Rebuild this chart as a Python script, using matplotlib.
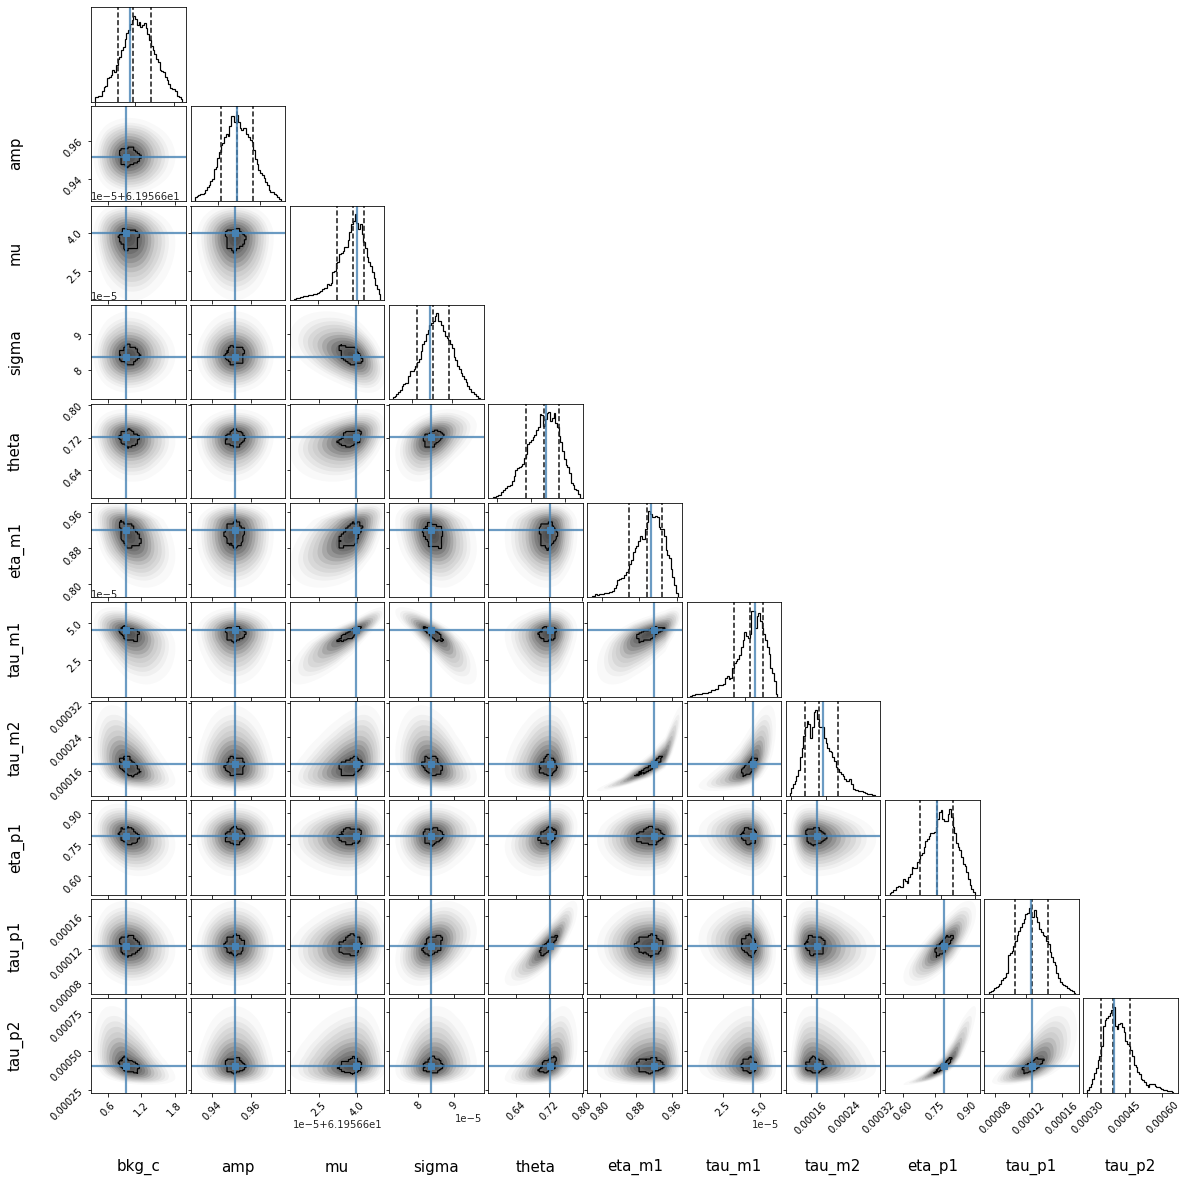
import numpy as np
import matplotlib
matplotlib.use("Agg")
import matplotlib.pyplot as plt
from matplotlib.patches import Polygon

plt.rcParams["hatch.linewidth"] = 0.5

W, H = 1186, 1184

labels = ["bkg_c", "amp", "mu", "sigma", "theta", "eta_m1", "tau_m1", "tau_m2", "eta_p1", "tau_p1", "tau_p2"]
# mu, sigma and tau_m1 are held in units of 1e-5 (mu with offset 61.9566), as the axes show them
truths = [0.915, 0.9516, 3.97, 8.35, 0.722, 0.92, 4.5, 0.000175, 0.79, 0.000124, 0.000408]

quant_bkg_c = [0.76, 0.95, 1.18]
quant_amp = [0.9458, 0.9516, 0.9575]
quant_mu = [3.2, 3.81, 4.22]
quant_sigma = [8.09, 8.41, 8.73]
quant_theta = [0.6928, 0.7187, 0.7418]
quant_eta_m1 = [0.8729, 0.9114, 0.9441]
quant_tau_m1 = [3.66, 4.33, 4.83]
quant_tau_m2 = [0.0001447, 0.0001672, 0.0001993]
quant_eta_p1 = [0.7408, 0.79, 0.836]
quant_tau_p1 = [0.0001095, 0.000125, 0.000139]
quant_tau_p2 = [0.000354, 0.000402, 0.00047]
quantiles = [quant_bkg_c, quant_amp, quant_mu, quant_sigma, quant_theta, quant_eta_m1,
             quant_tau_m1, quant_tau_m2, quant_eta_p1, quant_tau_p1, quant_tau_p2]

hist_bkg_c = [.05,.05,.06,.06,.12,.16,.18,.26,.27,.30,.35,.33,.41,.47,.50,.57,.61,.70,.76,.79,.86,.90,.95,.92,.85,.88,.83,.85,.87,.82,.75,.68,.62,.57,.53,.47,.44,.35,.34,.33,.28,.24,.20,.15,.14,.14,.12,.06,.05,.03]
hist_amp = [.04,.05,.06,.07,.08,.09,.12,.15,.17,.21,.24,.34,.36,.46,.52,.60,.62,.68,.72,.70,.80,.91,.91,.85,.92,.84,.78,.76,.78,.78,.72,.68,.65,.63,.55,.45,.40,.33,.30,.28,.25,.20,.17,.12,.10,.10,.07,.06,.04,.02]
hist_mu = [.01,.02,.02,.03,.03,.04,.04,.04,.05,.05,.05,.06,.06,.07,.09,.10,.12,.13,.13,.17,.16,.18,.30,.31,.39,.40,.49,.50,.52,.56,.56,.64,.72,.81,.84,.91,.82,.75,.80,.70,.62,.55,.46,.40,.36,.30,.23,.16,.12,.06]
hist_sigma = [.02,.03,.06,.08,.10,.14,.16,.18,.18,.25,.30,.31,.33,.36,.40,.43,.52,.60,.63,.70,.75,.80,.82,.85,.90,.93,.85,.85,.80,.74,.68,.66,.64,.60,.55,.46,.42,.36,.33,.28,.25,.22,.19,.14,.11,.08,.08,.06,.03,.01]
hist_theta = [.01,.01,.02,.03,.04,.07,.09,.11,.13,.13,.14,.18,.24,.30,.32,.33,.34,.36,.43,.47,.57,.60,.62,.65,.67,.72,.75,.89,.88,.76,.84,.90,.91,.82,.85,.90,.80,.75,.66,.60,.50,.42,.35,.33,.27,.16,.14,.10,.09,.05]
hist_eta_m1 = [.01,.02,.04,.03,.04,.04,.04,.05,.05,.05,.06,.06,.07,.10,.13,.18,.19,.20,.21,.24,.27,.30,.35,.40,.48,.52,.54,.60,.65,.62,.62,.72,.80,.91,.88,.85,.85,.86,.85,.75,.72,.72,.65,.50,.45,.42,.30,.22,.13,.05]
hist_tau_m1 = [.01,.02,.02,.03,.03,.03,.03,.04,.04,.04,.05,.05,.07,.07,.08,.08,.12,.12,.12,.13,.20,.22,.19,.20,.30,.35,.38,.40,.44,.52,.60,.68,.64,.62,.66,.90,.91,.73,.85,.88,.80,.73,.66,.60,.52,.45,.30,.25,.16,.03]
hist_tau_m2 = [.03,.08,.12,.15,.20,.27,.40,.50,.62,.72,.78,.75,.60,.72,.88,.90,.80,.72,.72,.72,.60,.55,.50,.47,.46,.40,.36,.30,.28,.25,.23,.20,.17,.15,.15,.17,.12,.07,.06,.06,.05,.05,.05,.04,.03,.02,.02,.02,.01,.01]
hist_eta_p1 = [.02,.03,.05,.05,.08,.09,.08,.08,.17,.14,.12,.19,.22,.29,.28,.28,.35,.38,.42,.44,.50,.57,.59,.62,.65,.65,.66,.72,.80,.88,.90,.80,.78,.78,.85,.91,.82,.72,.65,.55,.50,.47,.40,.33,.30,.24,.17,.10,.06,.03]
hist_tau_p1 = [.02,.03,.04,.06,.07,.08,.10,.14,.17,.18,.22,.41,.43,.45,.50,.55,.62,.66,.70,.74,.78,.84,.85,.90,.80,.80,.88,.80,.75,.68,.65,.62,.60,.55,.52,.44,.38,.33,.30,.22,.17,.12,.10,.09,.08,.06,.05,.04,.03,.01]
hist_tau_p2 = [.03,.06,.10,.15,.21,.27,.35,.40,.50,.72,.78,.80,.82,.85,.89,.92,.72,.68,.74,.75,.70,.65,.55,.52,.50,.46,.40,.30,.28,.22,.20,.15,.14,.12,.08,.06,.10,.09,.10,.07,.06,.06,.05,.04,.03,.03,.02,.02,.02,.01]
hists = [hist_bkg_c, hist_amp, hist_mu, hist_sigma, hist_theta, hist_eta_m1,
         hist_tau_m1, hist_tau_m2, hist_eta_p1, hist_tau_p1, hist_tau_p2]
hist_ranges = [(.471, 1.585), (.9365, .9676), (1.6, 4.85), (7.61, 9.35), (.6443, .7712), (.7937, .9769),
               (1.93, 5.41), (.000118, .000263), (.6515, .899), (.0000867, .0001638), (.0003, .000644)]

# axis ranges and ticks of the scatter panels
limits = [(.30, 2.0), (.9286, .9777), (1.385, 5.05), (7.17, 9.84), (.572, .803), (.771, .9815),
          (.1, 6.4), (.000101, .000325), (.513, .959), (.0000665, .0001805), (.000233, .00084)]
ticks = [[.6, 1.2, 1.8], [.94, .96], [2.5, 4.0], [8, 9], [.64, .72, .80], [.80, .88, .96],
         [2.5, 5.0], [.00016, .00024, .00032], [.60, .75, .90], [.00008, .00012, .00016], [.00030, .00045, .00060]]
tick_text = [["0.6", "1.2", "1.8"], ["0.94", "0.96"], ["2.5", "4.0"], ["8", "9"], ["0.64", "0.72", "0.80"],
             ["0.80", "0.88", "0.96"], ["2.5", "5.0"], ["0.00016", "0.00024", "0.00032"], ["0.60", "0.75", "0.90"],
             ["0.00008", "0.00012", "0.00016"], ["0.00030", "0.00045", "0.00060"]]
y_ticks_tau_p2 = [.00025, .00050, .00075]
y_text_tau_p2 = ["0.00025", "0.00050", "0.00075"]

# axis ranges and tick marks of the diagonal panels
diag_limits = [(.424, 1.63), (.9349, .9692), (1.42, 5.0), (7.53, 9.43), (.6374, .776), (.7843, .9863),
               (1.78, 5.56), (.0001113, .000272), (.638, .913), (.0000822, .0001668), (.000284, .000662)]
diag_ticks = [[.475, .975, 1.475], [.945, .96], [2.5, 4.0], [8.0, 8.8], [.65, .70, .75], [.8164, .8949, .9762],
              [2.6, 4.1], [.00012, .00018, .00024], [.70, .80, .90], [.00009, .00012, .00015], [.00030, .00045, .00060]]

# Read-off spread of each parameter: its value at -3 ... +3 spread units
spread_units = [-3, -2, -1, 0, 1, 2, 3]
spread_bkg_c = [.42, .58, .78, .96, 1.20, 1.42, 1.68]
spread_amp = [.9345, .9400, .9458, .9516, .9575, .9635, .9690]
spread_mu = [1.75, 2.5, 3.2, 3.81, 4.22, 4.6, 4.95]
spread_sigma = [7.5, 7.8, 8.09, 8.41, 8.73, 9.05, 9.45]
spread_theta = [.63, .665, .693, .719, .742, .76, .78]
spread_eta_m1 = [.81, .845, .875, .912, .944, .96, .975]
spread_tau_m1 = [1.5, 2.7, 3.66, 4.33, 4.83, 5.3, 5.8]
spread_tau_m2 = [.000118, .000130, .000145, .000167, .000199, .000240, .000290]
spread_eta_p1 = [.63, .69, .741, .79, .836, .875, .92]
spread_tau_p1 = [.000083, .000097, .00011, .000125, .000139, .000153, .000170]
spread_tau_p2 = [.000295, .000318, .000354, .000402, .00047, .00058, .00072]
spreads = [spread_bkg_c, spread_amp, spread_mu, spread_sigma, spread_theta, spread_eta_m1,
           spread_tau_m1, spread_tau_m2, spread_eta_p1, spread_tau_p1, spread_tau_p2]

# Read-off tilt of each cloud, by row, one value per column to the left of the diagonal
tilt_amp = [0.0]
tilt_mu = [-.1, 0.0]
tilt_sigma = [0.0, 0.0, -.45]
tilt_theta = [-.1, .05, .35, .4]
tilt_eta_m1 = [-.4, 0.0, .55, -.25, .05]
tilt_tau_m1 = [-.4, 0.0, .86, -.82, .1, .72]
tilt_tau_m2 = [-.45, -.05, .35, -.3, .05, .95, .72]
tilt_eta_p1 = [-.25, .05, .1, .1, .3, .1, -.1, -.1]
tilt_tau_p1 = [-.1, 0.0, .15, .35, .84, 0.0, -.15, -.1, .78]
tilt_tau_p2 = [-.45, 0.0, .1, .1, .5, .1, -.05, -.05, .94, .7]
tilts = [None, tilt_amp, tilt_mu, tilt_sigma, tilt_theta, tilt_eta_m1, tilt_tau_m1,
         tilt_tau_m2, tilt_eta_p1, tilt_tau_p1, tilt_tau_p2]

# Jagged outlines of the black contours (radius in spread units, equal angle steps)
blob_a = [.80, .92, .70, .88, .95, .68, .90, .78, .98, .72, .86, .66, .92, .75, .84, .70]
blob_b = [.92, .74, .86, .70, .98, .84, .66, .90, .74, .96, .80, .68, .88, .94, .72, .82]
blob_c = [.72, .88, .96, .78, .70, .92, .84, .68, .94, .86, .70, .90, .76, .70, .96, .80]
blob_d = [.96, .82, .72, .90, .76, .70, .98, .88, .74, .70, .92, .80, .95, .72, .78, .88]
blobs = [blob_a, blob_b, blob_c, blob_d]

shade_radii = [3.5, 3.05, 2.8, 2.55, 2.3, 2.05, 1.8, 1.55, 1.3, 1.05, .8, .55, .3]
shade_grays = [.975, .94, .90, .85, .79, .72, .63, .54, .45, .38, .32, .27, .24]
HATCH_RADIUS = 2.3

TRUTH = "#4682b4"
n = len(labels)
LEFT, STEP_X, PW = 91.3, 99.2, 94.7
TOP, STEP_Y, PH = 7.3, 99.1, 94.6

fig = plt.figure(figsize=(W / 72, H / 72), dpi=72, facecolor="white")


def to_value(z, k):
    table = spreads[k]
    v = np.interp(z, spread_units, table)
    v = np.where(z < -3, table[0] + (z + 3) * (table[1] - table[0]), v)
    return np.where(z > 3, table[-1] + (z - 3) * (table[-1] - table[-2]), v)


def outline(radius, rho, ix, iy, step=None):
    t = np.linspace(0, 2 * np.pi, 361)[:-1]
    if np.isscalar(radius):
        r = np.full_like(t, float(radius))
    else:
        t0 = np.linspace(0, 2 * np.pi, len(radius) + 1)
        r = np.interp(t, t0, list(radius) + [radius[0]])
    a = r * np.cos(t)
    b = r * (rho * np.cos(t) + np.sqrt(1 - rho ** 2) * np.sin(t))
    if step:
        a = np.round(a / step) * step
        b = np.round(b / step) * step
    return np.column_stack([to_value(a, ix), to_value(b, iy)])


for i in range(n):
    for j in range(i + 1):
        ax = fig.add_axes([(LEFT + STEP_X * j) / W, 1 - (TOP + STEP_Y * i + PH) / H, PW / W, PH / H])
        if i == j:
            edges = np.linspace(*hist_ranges[i], len(hists[i]) + 1)
            vals = np.asarray(hists[i]) / max(hists[i])
            ax.stairs(vals, edges, color="black", lw=1.2)
            ax.set_xlim(*diag_limits[i])
            ax.set_ylim(0, 1.1)
            for q in quantiles[i]:
                ax.axvline(q, color="#222222", ls=(0, (3.2, 1.6)), lw=1.6)
            ax.axvline(truths[i], color=TRUTH, lw=2.2, alpha=.8)
            ax.set_yticks([])
            if i == n - 1:
                ax.set_xticks(ticks[i], tick_text[i], rotation=45)
                ax.set_xlabel(labels[j], fontsize=15, va="center")
                ax.xaxis.set_label_coords(.5, -.785)
            else:
                ax.set_xticks(diag_ticks[i], [])
        else:
            rho = tilts[i][j]
            prev = 1.0
            for r, g in zip(shade_radii, shade_grays):
                ax.add_patch(Polygon(outline(r, rho, j, i), closed=True, fc="black", ec="none", alpha=1 - g / prev))
                prev = g
            ax.add_patch(Polygon(outline(HATCH_RADIUS, rho, j, i), closed=True, fill=False, lw=0,
                                 hatch="++++++", ec=(1, 1, 1, .22)))
            c = outline(blobs[(i * 3 + j) % len(blobs)], rho, j, i, step=.14)
            ax.add_patch(Polygon(c, closed=True, fill=False, ec="black", lw=1.2))
            ax.set_xlim(*limits[j])
            ax.set_ylim(*limits[i])
            ax.axvline(truths[j], color=TRUTH, lw=2.2, alpha=.8)
            ax.axhline(truths[i], color=TRUTH, lw=2.2, alpha=.8)
            ax.plot([truths[j]], [truths[i]], "s", color=TRUTH, ms=6.5)
            if i == n - 1:
                ax.set_xticks(ticks[j], tick_text[j], rotation=45)
                ax.set_xlabel(labels[j], fontsize=15, va="center")
                ax.xaxis.set_label_coords(.5, -.785)
            else:
                ax.set_xticks(ticks[j], [])
            ytk, ytx = (y_ticks_tau_p2, y_text_tau_p2) if i == n - 1 else (ticks[i], tick_text[i])
            if j == 0:
                ax.set_yticks(ytk, ytx, rotation=45)
                ax.set_ylabel(labels[i], fontsize=15, va="center")
                ax.yaxis.set_label_coords(-.8, .5)
            else:
                ax.set_yticks(ytk, [])
        ax.tick_params(labelsize=10)


def offset(x, y, s, ha="left"):
    fig.text(x / W, 1 - y / H, s, fontsize=10, ha=ha, va="center", color="#222222")


offset(91, 197.5, "1e\u22125+6.19566e1")
offset(91, 297, "1e\u22125")
offset(91, 595, "1e\u22125")
offset(338, 1125, "1e\u22125+6.19566e1", ha="center")
offset(482, 1119.5, "1e\u22125", ha="right")
offset(779, 1125, "1e\u22125", ha="right")

fig.savefig("out.png", dpi=72, facecolor="white")
